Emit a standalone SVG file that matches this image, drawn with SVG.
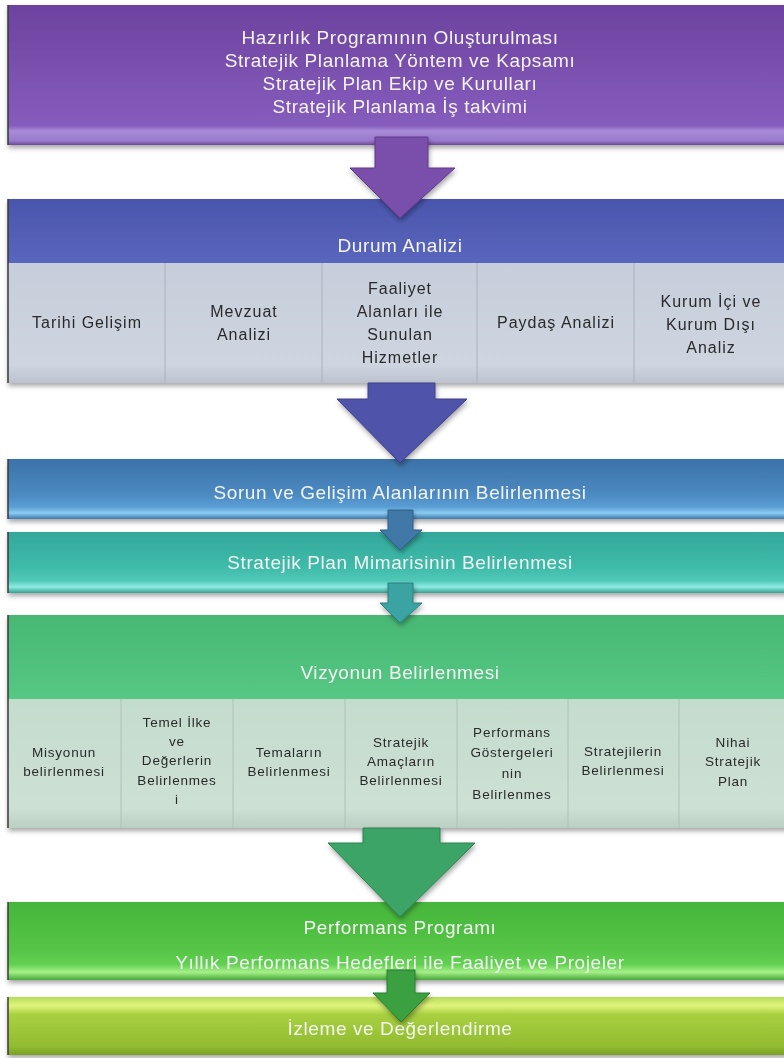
<svg xmlns="http://www.w3.org/2000/svg" width="784" height="1058" viewBox="0 0 784 1058">
<defs>
<filter id="sh" x="-5%" y="-10%" width="110%" height="130%">
<feDropShadow dx="1" dy="3" stdDeviation="2.5" flood-color="#000" flood-opacity="0.35"/>
</filter>
<linearGradient id="gPurple" x1="0" y1="0" x2="0" y2="1">
<stop offset="0" stop-color="#6c429f"/><stop offset="0.5" stop-color="#7b52b0"/><stop offset="0.86" stop-color="#855cbc"/><stop offset="0.9" stop-color="#a98bd9"/><stop offset="0.97" stop-color="#9a78cc"/><stop offset="1" stop-color="#6a4a98"/>
</linearGradient>
<linearGradient id="gBlueHdr" x1="0" y1="0" x2="0" y2="1">
<stop offset="0" stop-color="#4a55ac"/><stop offset="1" stop-color="#5a66bd"/>
</linearGradient>
<linearGradient id="gCell1" x1="0" y1="0" x2="0" y2="1">
<stop offset="0" stop-color="#c6cedb"/><stop offset="0.85" stop-color="#ced5e0"/><stop offset="1" stop-color="#bcc3cf"/>
</linearGradient>
<linearGradient id="gSteel" x1="0" y1="0" x2="0" y2="1">
<stop offset="0" stop-color="#3b72a8"/><stop offset="0.6" stop-color="#4c8ac2"/><stop offset="0.8" stop-color="#5a9ed4"/><stop offset="0.9" stop-color="#8cccf2"/><stop offset="1" stop-color="#3f76a8"/>
</linearGradient>
<linearGradient id="gTeal" x1="0" y1="0" x2="0" y2="1">
<stop offset="0" stop-color="#33a89a"/><stop offset="0.6" stop-color="#3fbcaa"/><stop offset="0.8" stop-color="#52c8b8"/><stop offset="0.9" stop-color="#90ece4"/><stop offset="1" stop-color="#36a090"/>
</linearGradient>
<linearGradient id="gGreenHdr" x1="0" y1="0" x2="0" y2="1">
<stop offset="0" stop-color="#48b874"/><stop offset="1" stop-color="#55c883"/>
</linearGradient>
<linearGradient id="gCell2" x1="0" y1="0" x2="0" y2="1">
<stop offset="0" stop-color="#c4dccd"/><stop offset="0.85" stop-color="#cde0d4"/><stop offset="1" stop-color="#bccfc3"/>
</linearGradient>
<linearGradient id="gGreen" x1="0" y1="0" x2="0" y2="1">
<stop offset="0" stop-color="#45b63a"/><stop offset="0.6" stop-color="#55c446"/><stop offset="0.8" stop-color="#62d052"/><stop offset="0.9" stop-color="#a6f088"/><stop offset="1" stop-color="#48a83a"/>
</linearGradient>
<linearGradient id="gLime" x1="0" y1="0" x2="0" y2="1">
<stop offset="0" stop-color="#b8dc58"/><stop offset="0.15" stop-color="#e0f47c"/><stop offset="0.3" stop-color="#a8d040"/><stop offset="0.85" stop-color="#92bc30"/><stop offset="1" stop-color="#7aa028"/>
</linearGradient>
<style>
.hd{font-family:"Liberation Sans",Arial,sans-serif;font-size:19px;letter-spacing:0.6px;fill:#f4f4f4;text-anchor:middle}
.ct{font-family:"Liberation Sans",Arial,sans-serif;font-size:16px;letter-spacing:1px;fill:#2a2a2a;text-anchor:middle}
.cs{font-family:"Liberation Sans",Arial,sans-serif;font-size:13.5px;letter-spacing:0.8px;fill:#2a2a2a;text-anchor:middle}
.sep{stroke:#aab2be;stroke-width:1}
.sep2{stroke:#aec2b5;stroke-width:1}
.edge{stroke:#3a3a3a;stroke-width:1.5}
</style>
</defs>
<rect width="784" height="1058" fill="#ffffff"/>

<g id="node-hazirlik" filter="url(#sh)">
<rect x="8" y="5" width="780" height="140" fill="url(#gPurple)"/>
<line class="edge" x1="8" y1="5" x2="8" y2="145"/>
<text class="hd" x="400" y="44">Hazırlık Programının Oluşturulması</text>
<text class="hd" x="400" y="67">Stratejik Planlama Yöntem ve Kapsamı</text>
<text class="hd" x="400" y="90">Stratejik Plan Ekip ve Kurulları</text>
<text class="hd" x="400" y="113">Stratejik Planlama İş takvimi</text>
</g>

<g id="node-durum" filter="url(#sh)">
<rect x="8" y="199" width="780" height="64" fill="url(#gBlueHdr)"/>
<rect x="8" y="263" width="780" height="120" fill="url(#gCell1)"/>
<line class="edge" x1="8" y1="199" x2="8" y2="383"/>
<line class="sep" x1="165" y1="263" x2="165" y2="383"/>
<line class="sep" x1="322" y1="263" x2="322" y2="383"/>
<line class="sep" x1="477" y1="263" x2="477" y2="383"/>
<line class="sep" x1="634" y1="263" x2="634" y2="383"/>
<text class="hd" x="400" y="252">Durum Analizi</text>
<text class="ct" x="87" y="328">Tarihi Gelişim</text>
<text class="ct" x="244" y="317">Mevzuat</text>
<text class="ct" x="244" y="340">Analizi</text>
<text class="ct" x="400" y="294">Faaliyet</text>
<text class="ct" x="400" y="317">Alanları ile</text>
<text class="ct" x="400" y="340">Sunulan</text>
<text class="ct" x="400" y="363">Hizmetler</text>
<text class="ct" x="556" y="328">Paydaş Analizi</text>
<text class="ct" x="711" y="307">Kurum İçi ve</text>
<text class="ct" x="711" y="330">Kurum Dışı</text>
<text class="ct" x="711" y="353">Analiz</text>
</g>

<g id="node-sorun" filter="url(#sh)">
<rect x="8" y="459" width="780" height="60" fill="url(#gSteel)"/>
<line class="edge" x1="8" y1="459" x2="8" y2="519"/>
<text class="hd" x="400" y="499">Sorun ve Gelişim Alanlarının Belirlenmesi</text>
</g>

<g id="node-mimari" filter="url(#sh)">
<rect x="8" y="532" width="780" height="61" fill="url(#gTeal)"/>
<line class="edge" x1="8" y1="532" x2="8" y2="593"/>
<text class="hd" x="400" y="569">Stratejik Plan Mimarisinin Belirlenmesi</text>
</g>

<g id="node-vizyon" filter="url(#sh)">
<rect x="8" y="615" width="780" height="84" fill="url(#gGreenHdr)"/>
<rect x="8" y="699" width="780" height="129" fill="url(#gCell2)"/>
<line class="edge" x1="8" y1="615" x2="8" y2="828"/>
<line class="sep2" x1="121" y1="699" x2="121" y2="828"/>
<line class="sep2" x1="233" y1="699" x2="233" y2="828"/>
<line class="sep2" x1="345" y1="699" x2="345" y2="828"/>
<line class="sep2" x1="457" y1="699" x2="457" y2="828"/>
<line class="sep2" x1="568" y1="699" x2="568" y2="828"/>
<line class="sep2" x1="679" y1="699" x2="679" y2="828"/>
<text class="hd" x="400" y="679">Vizyonun Belirlenmesi</text>
<text class="cs" x="64" y="757">Misyonun</text>
<text class="cs" x="64" y="776">belirlenmesi</text>
<text class="cs" x="177" y="727">Temel İlke</text>
<text class="cs" x="177" y="746">ve</text>
<text class="cs" x="177" y="765">Değerlerin</text>
<text class="cs" x="177" y="785">Belirlenmes</text>
<text class="cs" x="177" y="804">i</text>
<text class="cs" x="289" y="757">Temaların</text>
<text class="cs" x="289" y="776">Belirlenmesi</text>
<text class="cs" x="401" y="747">Stratejik</text>
<text class="cs" x="401" y="766">Amaçların</text>
<text class="cs" x="401" y="785">Belirlenmesi</text>
<text class="cs" x="512" y="737">Performans</text>
<text class="cs" x="512" y="757">Göstergeleri</text>
<text class="cs" x="512" y="778">nin</text>
<text class="cs" x="512" y="799">Belirlenmes</text>
<text class="cs" x="623" y="756">Stratejilerin</text>
<text class="cs" x="623" y="775">Belirlenmesi</text>
<text class="cs" x="733" y="747">Nihai</text>
<text class="cs" x="733" y="766">Stratejik</text>
<text class="cs" x="733" y="786">Plan</text>
</g>

<g id="node-performans" filter="url(#sh)">
<rect x="8" y="902" width="780" height="78" fill="url(#gGreen)"/>
<line class="edge" x1="8" y1="902" x2="8" y2="980"/>
<text class="hd" x="400" y="934">Performans Programı</text>
<text class="hd" x="400" y="969">Yıllık Performans Hedefleri ile Faaliyet ve Projeler</text>
</g>

<g id="node-izleme" filter="url(#sh)">
<rect x="8" y="997" width="780" height="58" fill="url(#gLime)"/>
<line class="edge" x1="8" y1="997" x2="8" y2="1055"/>
<text class="hd" x="400" y="1035">İzleme ve Değerlendirme</text>
</g>

<g id="connectors" filter="url(#sh)">
<polygon points="375,137 428,137 428,168 455,168 400,218 350,168 375,168" fill="#7a4fac" stroke="#5e3a8a" stroke-width="1"/>
<polygon points="368,383 435,383 435,399 467,399 400,463 337,399 368,399" fill="#5052aa" stroke="#3c3e8a" stroke-width="1"/>
<polygon points="388,510 413,510 413,530 422,530 400,550 380,530 388,530" fill="#4078a8" stroke="#2e5c84" stroke-width="1"/>
<polygon points="388,583 413,583 413,603 422,603 400,623 380,603 388,603" fill="#3aa3a2" stroke="#2a7e7c" stroke-width="1"/>
<polygon points="363,828 440,828 440,843 475,843 400,917 328,843 363,843" fill="#3ca468" stroke="#2c8050" stroke-width="1"/>
<polygon points="387,970 415,970 415,993 430,993 401,1022 373,993 387,993" fill="#3aa040" stroke="#2a7c30" stroke-width="1"/>
</g>
</svg>
